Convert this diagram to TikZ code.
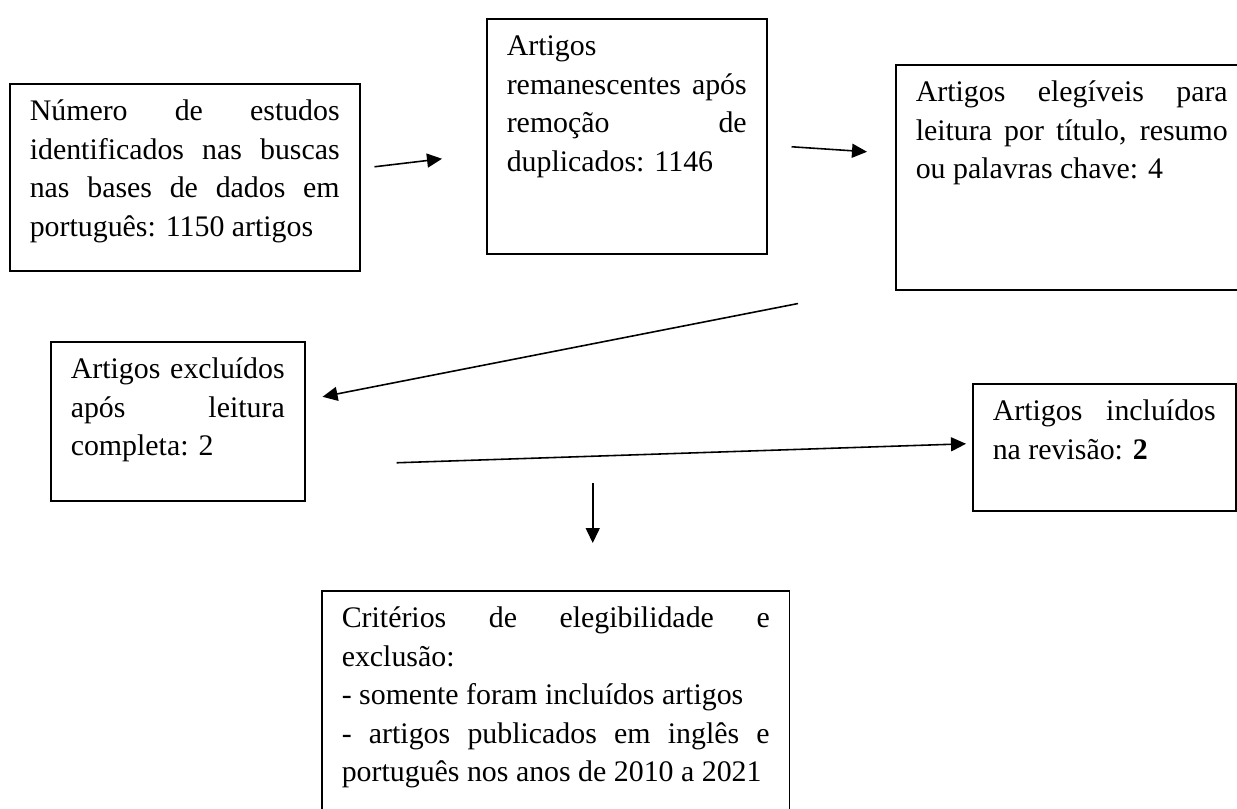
\documentclass[tikz,border=0pt]{standalone}
\usepackage{fontspec}
\setmainfont{Liberation Serif}
\usetikzlibrary{arrows.meta, positioning, calc}

% linha justificada e caixa de texto alinhada no topo
\newcommand{\jl}[1]{\makebox[\linewidth][s]{#1}\\}
\newcommand{\caixatexto}[3]{\parbox[c][#2][t]{#1}{\strut #3}}

\begin{document}
\begin{tikzpicture}[x=0.02cm, y=-0.02cm,
    caixa/.style={rectangle, draw, line width=0.9pt, anchor=north west, inner xsep=0.4cm, inner ysep=0.2cm, font=\fontsize{17pt}{21.9pt}\selectfont},
    seta/.style={line width=0.9pt, -{Triangle[length=0.3cm, width=0.28cm]}}
]
    \useasboundingbox (0,0) rectangle (1237,808);
    \clip (0,0) rectangle (1237,808);

    \node[caixa] (busca) at (9,83) {\caixatexto{6.2cm}{3.34cm}{\jl{Número de estudos}\jl{identificados nas buscas}\jl{nas bases de dados em}português: 1150 artigos}};
    \node[caixa] (remanescentes) at (486,18) {\caixatexto{4.8cm}{4.3cm}{Artigos\\\jl{remanescentes após}\jl{remoção de}duplicados: 1146}};
    \node[caixa] (elegiveis) at (895,64) {\caixatexto{6.24cm}{4.1cm}{\jl{Artigos elegíveis para}\jl{leitura por título, resumo}ou palavras chave: 4}};
    \node[caixa] (excluidos) at (50,341) {\caixatexto{4.28cm}{2.78cm}{\jl{Artigos excluídos}\jl{após leitura}completa: 2}};
    \node[caixa] (incluidos) at (972,383) {\caixatexto{4.46cm}{2.14cm}{\jl{Artigos incluídos}na revisão: \textbf{2}}};
    \node[caixa] (criterios) at (321,590) {\caixatexto{8.56cm}{4.4cm}{\jl{Critérios de elegibilidade e}exclusão:\\- somente foram incluídos artigos\\\jl{- artigos publicados em inglês e}português nos anos de 2010 a 2021}};

    \draw[seta] ($(busca.east)+(14,-10.5)$) -- ($(remanescentes.west)+(-44,22.5)$);
    \draw[seta] ($(remanescentes.east)+(24,10.5)$) -- ($(elegiveis.west)+(-28,-25.5)$);
    \draw[seta] ($(elegiveis.south west)+(-97,13)$) -- ($(excluidos.east)+(17,-24.5)$);
    \draw[seta] ($(excluidos.east)+(91,41.5)$) -- ($(incluidos.west)+(-6,-3.5)$);
    \draw[seta] ($(criterios.north)+(37,-107)$) -- ($(criterios.north)+(37,-47)$);
\end{tikzpicture}
\end{document}
